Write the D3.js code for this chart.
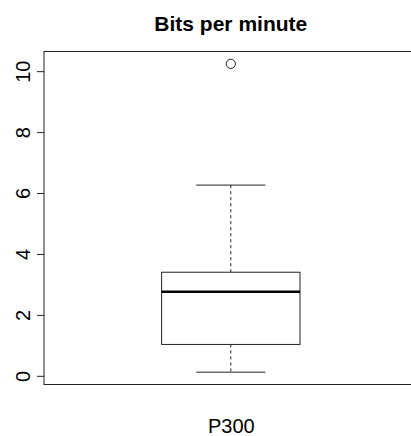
<!DOCTYPE html>
<html>
<head>
<meta charset="utf-8">
<script src="https://cdn.jsdelivr.net/npm/d3@7/dist/d3.min.js"></script>
<style>
  html, body { margin: 0; padding: 0; background: #fff; }
  svg { display: block; font-family: "Liberation Sans", Arial, Helvetica, sans-serif; }
</style>
</head>
<body>
<svg id="chart" width="411" height="436"></svg>
<script>
// Box summary for bits per minute (P300 condition)
const categories = ["P300"];
const whiskerLow = [0.12];
const quartile1 = [1.03];
const medians = [2.76];
const quartile3 = [3.40];
const whiskerHigh = [6.26];
const outliers = [[10.24]];
const yTicks = [0, 2, 4, 6, 8, 10];
const title = "Bits per minute";

const svg = d3.select("#chart");
const frame = { left: 44, right: 417.6, top: 51.5, bottom: 384.5 };
const ink = "#222";

// y range padded 4% beyond the data, like base graphics
const allVals = whiskerLow.concat(whiskerHigh, outliers.flat());
const yMin = d3.min(allVals), yMax = d3.max(allVals);
const pad = (yMax - yMin) * 0.04;
const y = d3.scaleLinear().domain([yMin - pad, yMax + pad]).range([frame.bottom, frame.top]);

const x = d3.scaleLinear().domain([0.46, 1.54]).range([frame.left, frame.right]);
const boxHalf = 0.2, capHalf = 0.1;

// title
svg.append("text")
  .attr("x", x(1)).attr("y", 31)
  .attr("text-anchor", "middle")
  .attr("font-weight", "bold")
  .attr("font-size", 21)
  .text(title);

// y axis
const yAxis = svg.append("g")
  .attr("transform", `translate(${frame.left},0)`)
  .call(d3.axisLeft(y).tickValues(yTicks).tickFormat(d3.format("d")).tickSize(7).tickSizeOuter(0));
yAxis.select(".domain").remove();
yAxis.selectAll(".tick line").attr("stroke", ink);
yAxis.selectAll(".tick text")
  .attr("font-size", 20)
  .attr("fill", "#000")
  .attr("text-anchor", "middle")
  .attr("dy", null)
  .attr("x", null)
  .attr("transform", "translate(-14.5,0) rotate(-90)");

// x axis category label
const xAxis = svg.append("g")
  .attr("transform", `translate(0,${frame.bottom})`)
  .call(d3.axisBottom(x).tickValues(categories.map((c, i) => i + 1))
    .tickFormat((d, i) => categories[i]).tickSize(0));
xAxis.select(".domain").remove();
xAxis.selectAll(".tick text")
  .attr("font-size", 20)
  .attr("fill", "#000")
  .attr("dy", null)
  .attr("y", 48.5);

// boxes
categories.forEach((c, i) => {
  const cx = i + 1;
  const g = svg.append("g").attr("fill", "none").attr("stroke", ink);
  // whiskers (dashed)
  g.append("line")
    .attr("x1", x(cx)).attr("x2", x(cx))
    .attr("y1", y(quartile3[i])).attr("y2", y(whiskerHigh[i]))
    .attr("stroke-dasharray", "3,3");
  g.append("line")
    .attr("x1", x(cx)).attr("x2", x(cx))
    .attr("y1", y(quartile1[i])).attr("y2", y(whiskerLow[i]))
    .attr("stroke-dasharray", "3,3");
  // staples
  [whiskerLow[i], whiskerHigh[i]].forEach(v => {
    g.append("line")
      .attr("x1", x(cx - capHalf)).attr("x2", x(cx + capHalf))
      .attr("y1", y(v)).attr("y2", y(v));
  });
  // box
  g.append("rect")
    .attr("x", x(cx - boxHalf)).attr("width", x(cx + boxHalf) - x(cx - boxHalf))
    .attr("y", y(quartile3[i])).attr("height", y(quartile1[i]) - y(quartile3[i]));
  // median
  g.append("line")
    .attr("x1", x(cx - boxHalf)).attr("x2", x(cx + boxHalf))
    .attr("y1", y(medians[i])).attr("y2", y(medians[i]))
    .attr("stroke", "#000")
    .attr("stroke-width", 2.5);
  // outliers
  outliers[i].forEach(v => {
    g.append("circle").attr("cx", x(cx)).attr("cy", y(v)).attr("r", 4.6);
  });
});

// plot frame
svg.append("rect")
  .attr("x", frame.left).attr("y", frame.top)
  .attr("width", frame.right - frame.left).attr("height", frame.bottom - frame.top)
  .attr("fill", "none").attr("stroke", ink);
</script>
</body>
</html>
